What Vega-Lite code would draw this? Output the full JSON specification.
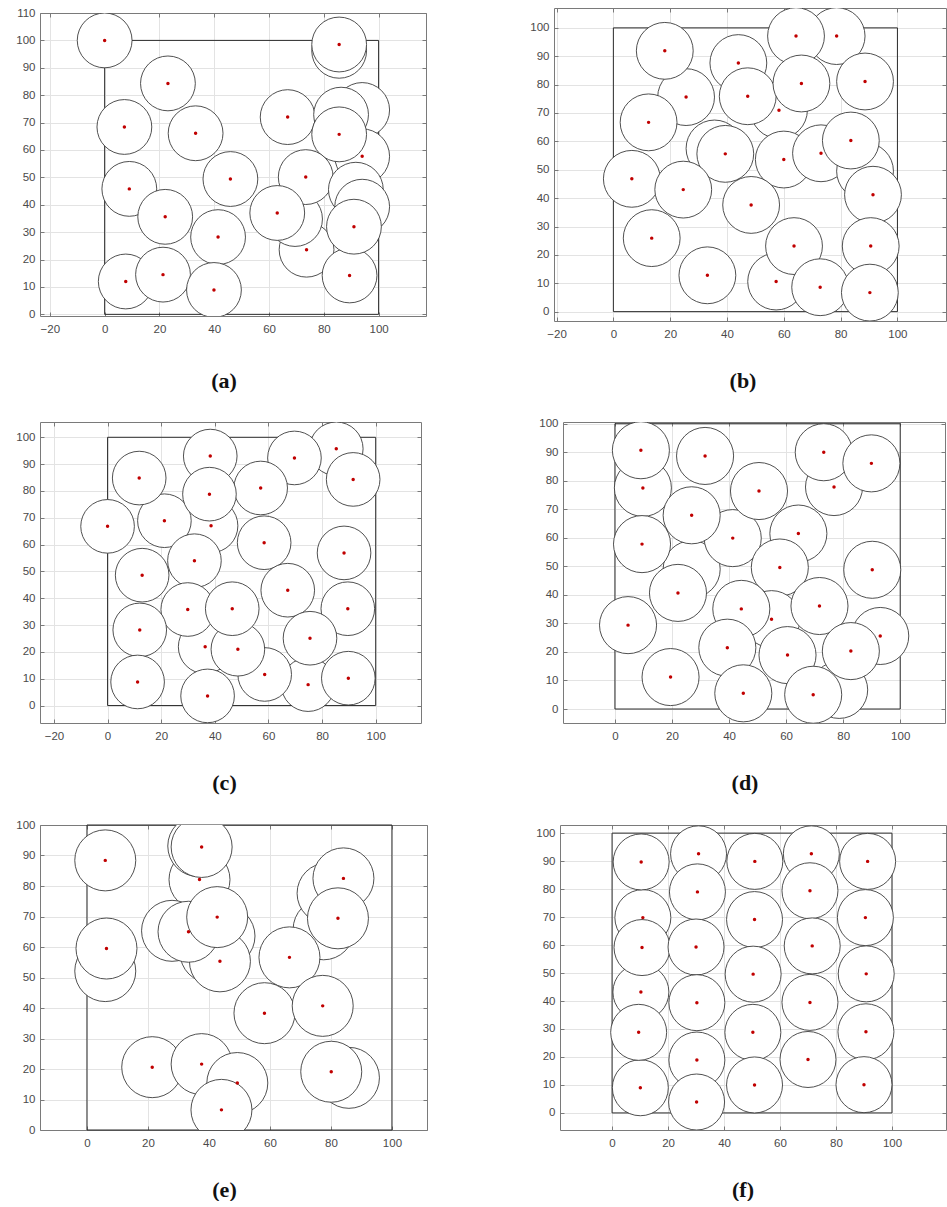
{
  "$schema": "https://vega.github.io/schema/vega-lite/v6.json",
  "padding": {"left": 15, "top": 7, "right": 0, "bottom": 0},
  "background": "#ffffff",
  "config": {
    "view": {"stroke": null},
    "axis": {"labelFont": "Liberation Sans", "labelFontSize": 11.5, "labelColor": "#4a4a4a", "gridColor": "#e3e3e3", "gridWidth": 1, "domainColor": "#7a7a7a", "domainWidth": 1, "tickColor": "#7a7a7a", "tickSize": -4},
    "axisX": {"labelPadding": 11},
    "axisY": {"labelPadding": 9},
    "title": {"font": "Liberation Serif", "fontSize": 22, "fontWeight": "bold", "color": "#111111"}
  },
  "datasets": {
    "a": [
      {"x": 0, "y": 100, "shown": true}, {"x": 23.1, "y": 84.3, "shown": true}, {"x": 7.2, "y": 68.4, "shown": true}, {"x": 33.2, "y": 66.1, "shown": true},
      {"x": 9, "y": 45.8, "shown": true}, {"x": 22.1, "y": 35.6, "shown": true}, {"x": 45.9, "y": 49.4, "shown": true}, {"x": 41.4, "y": 28.2, "shown": true},
      {"x": 7.7, "y": 12, "shown": true}, {"x": 21.3, "y": 14.5, "shown": true}, {"x": 39.9, "y": 8.9, "shown": true}, {"x": 66.8, "y": 72, "shown": true},
      {"x": 85.6, "y": 96.2, "shown": false}, {"x": 85.6, "y": 98.5, "shown": true}, {"x": 94, "y": 74.6, "shown": false}, {"x": 86.3, "y": 72.9, "shown": false},
      {"x": 94, "y": 57.7, "shown": true}, {"x": 85.6, "y": 65.7, "shown": true}, {"x": 73.7, "y": 23.6, "shown": true}, {"x": 69.5, "y": 34.8, "shown": false},
      {"x": 73.4, "y": 50.1, "shown": true}, {"x": 63, "y": 37, "shown": true}, {"x": 91.7, "y": 45.5, "shown": false}, {"x": 89.4, "y": 14.2, "shown": true},
      {"x": 94, "y": 39.3, "shown": false}, {"x": 91, "y": 32, "shown": true}
    ],
    "b": [
      {"x": 25.6, "y": 75.6, "shown": true}, {"x": 18.1, "y": 91.9, "shown": true}, {"x": 12.4, "y": 66.7, "shown": true}, {"x": 44, "y": 87.6, "shown": true},
      {"x": 58.3, "y": 71, "shown": true}, {"x": 47.3, "y": 75.9, "shown": true}, {"x": 78.6, "y": 97.1, "shown": true}, {"x": 64.3, "y": 97.1, "shown": true},
      {"x": 66.2, "y": 80.4, "shown": true}, {"x": 88.6, "y": 81.1, "shown": true}, {"x": 35.6, "y": 57.5, "shown": false}, {"x": 39.4, "y": 55.6, "shown": true},
      {"x": 60, "y": 53.6, "shown": true}, {"x": 73.1, "y": 55.8, "shown": true}, {"x": 88.6, "y": 49.5, "shown": false}, {"x": 83.6, "y": 60.3, "shown": true},
      {"x": 91.4, "y": 41.2, "shown": true}, {"x": 6.5, "y": 46.8, "shown": true}, {"x": 24.6, "y": 43, "shown": true}, {"x": 48.5, "y": 37.6, "shown": true},
      {"x": 13.5, "y": 25.9, "shown": true}, {"x": 57.3, "y": 10.6, "shown": true}, {"x": 63.6, "y": 23.1, "shown": true}, {"x": 72.8, "y": 8.6, "shown": true},
      {"x": 90.6, "y": 23.1, "shown": true}, {"x": 90.3, "y": 6.7, "shown": true}, {"x": 33.1, "y": 12.8, "shown": true}
    ],
    "c": [
      {"x": 85.3, "y": 95.7, "shown": true}, {"x": 69.7, "y": 92.3, "shown": true}, {"x": 91.6, "y": 84.3, "shown": true}, {"x": 38.3, "y": 93, "shown": true},
      {"x": 57.1, "y": 81.1, "shown": true}, {"x": 38.6, "y": 67, "shown": true}, {"x": 21.2, "y": 68.9, "shown": true}, {"x": 11.8, "y": 84.8, "shown": true},
      {"x": 38, "y": 78.8, "shown": true}, {"x": 0, "y": 66.8, "shown": true}, {"x": 58.4, "y": 60.7, "shown": true}, {"x": 88.2, "y": 56.9, "shown": true},
      {"x": 32.4, "y": 54, "shown": true}, {"x": 12.9, "y": 48.6, "shown": true}, {"x": 67.2, "y": 43, "shown": true}, {"x": 36.4, "y": 21.9, "shown": true},
      {"x": 74.8, "y": 7.8, "shown": true}, {"x": 58.6, "y": 11.6, "shown": true}, {"x": 48.6, "y": 21, "shown": true}, {"x": 29.9, "y": 35.8, "shown": true},
      {"x": 46.5, "y": 36.1, "shown": true}, {"x": 89.6, "y": 36.1, "shown": true}, {"x": 12, "y": 28.2, "shown": true}, {"x": 75.5, "y": 25.1, "shown": true},
      {"x": 11.2, "y": 8.8, "shown": true}, {"x": 89.8, "y": 10.2, "shown": true}, {"x": 37.3, "y": 3.6, "shown": true}
    ],
    "d": [
      {"x": 26.9, "y": 49, "shown": false}, {"x": 9.8, "y": 77.5, "shown": true}, {"x": 9.1, "y": 90.7, "shown": true}, {"x": 9.5, "y": 57.8, "shown": true},
      {"x": 31.6, "y": 88.7, "shown": true}, {"x": 76.8, "y": 77.8, "shown": true}, {"x": 73.2, "y": 90, "shown": true}, {"x": 89.9, "y": 86.1, "shown": true},
      {"x": 41.3, "y": 59.9, "shown": true}, {"x": 26.9, "y": 67.9, "shown": true}, {"x": 50.5, "y": 76.4, "shown": true}, {"x": 64.3, "y": 61.5, "shown": true},
      {"x": 57.8, "y": 49.6, "shown": true}, {"x": 90.2, "y": 48.8, "shown": true}, {"x": 22.1, "y": 40.7, "shown": true}, {"x": 54.9, "y": 31.5, "shown": true},
      {"x": 44.3, "y": 35.1, "shown": true}, {"x": 71.7, "y": 36.1, "shown": true}, {"x": 4.6, "y": 29.4, "shown": true}, {"x": 78.6, "y": 6.7, "shown": false},
      {"x": 93, "y": 25.6, "shown": true}, {"x": 82.7, "y": 20.3, "shown": true}, {"x": 39.4, "y": 21.5, "shown": true}, {"x": 60.5, "y": 18.9, "shown": true},
      {"x": 19.5, "y": 11.2, "shown": true}, {"x": 45, "y": 5.5, "shown": true}, {"x": 69.5, "y": 5, "shown": true}
    ],
    "e": [
      {"x": 6, "y": 52.1, "shown": false}, {"x": 6.4, "y": 59.5, "shown": true}, {"x": 6, "y": 88.4, "shown": true}, {"x": 36.9, "y": 82.1, "shown": true},
      {"x": 36.5, "y": 93.1, "shown": false}, {"x": 37.6, "y": 92.8, "shown": true}, {"x": 27.9, "y": 65.3, "shown": false}, {"x": 40.5, "y": 58.2, "shown": false},
      {"x": 45.1, "y": 63.6, "shown": false}, {"x": 43.6, "y": 55.3, "shown": true}, {"x": 33.3, "y": 65, "shown": true}, {"x": 42.7, "y": 69.8, "shown": true},
      {"x": 77.6, "y": 65.8, "shown": false}, {"x": 66.4, "y": 56.6, "shown": true}, {"x": 78.9, "y": 77.6, "shown": false}, {"x": 84.1, "y": 82.5, "shown": true},
      {"x": 82.3, "y": 69.4, "shown": true}, {"x": 58.2, "y": 38.3, "shown": true}, {"x": 77.3, "y": 40.7, "shown": true}, {"x": 21.4, "y": 20.6, "shown": true},
      {"x": 37.6, "y": 21.6, "shown": true}, {"x": 49.3, "y": 15.4, "shown": true}, {"x": 44.1, "y": 6.6, "shown": true}, {"x": 85.9, "y": 17.1, "shown": false},
      {"x": 80.1, "y": 19.1, "shown": true}
    ],
    "f": [
      {"x": 11, "y": 69.8, "shown": true}, {"x": 10.3, "y": 43.2, "shown": true}, {"x": 10.7, "y": 59.1, "shown": true}, {"x": 10.4, "y": 89.7, "shown": true},
      {"x": 10.1, "y": 9, "shown": true}, {"x": 9.5, "y": 28.8, "shown": true},
      {"x": 30.9, "y": 92.6, "shown": true}, {"x": 30.5, "y": 79, "shown": true}, {"x": 30, "y": 59.3, "shown": true}, {"x": 30.3, "y": 39.4, "shown": true},
      {"x": 30.3, "y": 18.9, "shown": true}, {"x": 30.2, "y": 3.9, "shown": true},
      {"x": 51, "y": 89.9, "shown": true}, {"x": 50.9, "y": 69.1, "shown": true}, {"x": 50.4, "y": 49.6, "shown": true}, {"x": 50.3, "y": 28.8, "shown": true},
      {"x": 50.9, "y": 10, "shown": true},
      {"x": 71.2, "y": 92.6, "shown": true}, {"x": 70.7, "y": 79.4, "shown": true}, {"x": 71.5, "y": 59.7, "shown": true}, {"x": 70.7, "y": 39.5, "shown": true},
      {"x": 70, "y": 19.1, "shown": true},
      {"x": 91.3, "y": 89.9, "shown": true}, {"x": 90.5, "y": 69.8, "shown": true}, {"x": 90.8, "y": 49.7, "shown": true}, {"x": 90.7, "y": 29, "shown": true},
      {"x": 90, "y": 10.1, "shown": true}
    ]
  },
  "spacing": 25,
  "vconcat": [
    {
      "hconcat": [
        {
          "width": 386, "height": 303,
          "title": {"text": "(a)", "orient": "bottom", "offset": 31, "dx": -9, "dy": 5},
          "data": {"name": "a"},
          "resolve": {"axis": {"x": "independent", "y": "independent"}},
          "layer": [
            {"data": {"values": [{}]}, "mark": {"type": "rect", "filled": false, "stroke": "#2b2b2b", "strokeWidth": 1},
             "encoding": {
               "x": {"datum": 0, "type": "quantitative", "scale": {"domain": [-23.6, 117.3], "nice": false, "zero": false}, "axis": {"orient": "bottom", "values": [-20, 0, 20, 40, 60, 80, 100], "grid": true, "title": null}},
               "x2": {"datum": 100},
               "y": {"datum": 0, "type": "quantitative", "scale": {"domain": [-0.6, 110], "nice": false, "zero": false}, "axis": {"orient": "left", "values": [0, 10, 20, 30, 40, 50, 60, 70, 80, 90, 100, 110], "grid": true, "title": null}},
               "y2": {"datum": 100}}},
            {"mark": {"type": "point", "shape": "circle", "filled": true, "fill": "#ffffff", "stroke": "#3c3c3c", "strokeWidth": 0.9, "opacity": 1, "size": 3002, "clip": true},
             "encoding": {
               "x": {"field": "x", "type": "quantitative", "axis": {"orient": "top", "values": [-20, 0, 20, 40, 60, 80, 100], "labels": false, "grid": false, "title": null}},
               "y": {"field": "y", "type": "quantitative", "axis": {"orient": "right", "values": [0, 10, 20, 30, 40, 50, 60, 70, 80, 90, 100, 110], "labels": false, "grid": false, "title": null}}}},
            {"transform": [{"filter": "datum.shown"}],
             "mark": {"type": "point", "shape": "circle", "filled": true, "color": "#c00000", "size": 12, "opacity": 1, "clip": true},
             "encoding": {"x": {"field": "x", "type": "quantitative", "axis": null}, "y": {"field": "y", "type": "quantitative", "axis": null}}}
          ]
        },
        {
          "width": 392, "height": 313,
          "title": {"text": "(b)", "orient": "bottom", "offset": 31, "dx": -7},
          "data": {"name": "b"},
          "resolve": {"axis": {"x": "independent", "y": "independent"}},
          "layer": [
            {"data": {"values": [{}]}, "mark": {"type": "rect", "filled": false, "stroke": "#2b2b2b", "strokeWidth": 1},
             "encoding": {
               "x": {"datum": 0, "type": "quantitative", "scale": {"domain": [-20.9, 117.1], "nice": false, "zero": false}, "axis": {"orient": "bottom", "values": [-20, 0, 20, 40, 60, 80, 100], "grid": true, "title": null}},
               "x2": {"datum": 100},
               "y": {"datum": 0, "type": "quantitative", "scale": {"domain": [-3.3, 107], "nice": false, "zero": false}, "axis": {"orient": "left", "values": [0, 10, 20, 30, 40, 50, 60, 70, 80, 90, 100], "grid": true, "title": null}},
               "y2": {"datum": 100}}},
            {"mark": {"type": "point", "shape": "circle", "filled": true, "fill": "#ffffff", "stroke": "#3c3c3c", "strokeWidth": 0.9, "opacity": 1, "size": 3228, "clip": true},
             "encoding": {
               "x": {"field": "x", "type": "quantitative", "axis": {"orient": "top", "values": [-20, 0, 20, 40, 60, 80, 100], "labels": false, "grid": false, "title": null}},
               "y": {"field": "y", "type": "quantitative", "axis": {"orient": "right", "values": [0, 10, 20, 30, 40, 50, 60, 70, 80, 90, 100], "labels": false, "grid": false, "title": null}}}},
            {"transform": [{"filter": "datum.shown"}],
             "mark": {"type": "point", "shape": "circle", "filled": true, "color": "#c00000", "size": 12, "opacity": 1, "clip": true},
             "encoding": {"x": {"field": "x", "type": "quantitative", "axis": null}, "y": {"field": "y", "type": "quantitative", "axis": null}}}
          ]
        }
      ],
      "spacing": 128, "bounds": "flush", "center": true
    },
    {
      "hconcat": [
        {
          "width": 381, "height": 301,
          "title": {"text": "(c)", "orient": "bottom", "offset": 31, "dx": -6},
          "data": {"name": "c"},
          "resolve": {"axis": {"x": "independent", "y": "independent"}},
          "layer": [
            {"data": {"values": [{}]}, "mark": {"type": "rect", "filled": false, "stroke": "#2b2b2b", "strokeWidth": 1},
             "encoding": {
               "x": {"datum": 0, "type": "quantitative", "scale": {"domain": [-25.2, 116.9], "nice": false, "zero": false}, "axis": {"orient": "bottom", "values": [-20, 0, 20, 40, 60, 80, 100], "grid": true, "title": null}},
               "x2": {"datum": 100},
               "y": {"datum": 0, "type": "quantitative", "scale": {"domain": [-6.5, 105.7], "nice": false, "zero": false}, "axis": {"orient": "left", "values": [0, 10, 20, 30, 40, 50, 60, 70, 80, 90, 100], "grid": true, "title": null}},
               "y2": {"datum": 100}}},
            {"mark": {"type": "point", "shape": "circle", "filled": true, "fill": "#ffffff", "stroke": "#3c3c3c", "strokeWidth": 0.9, "opacity": 1, "size": 2875, "clip": true},
             "encoding": {
               "x": {"field": "x", "type": "quantitative", "axis": {"orient": "top", "values": [-20, 0, 20, 40, 60, 80, 100], "labels": false, "grid": false, "title": null}},
               "y": {"field": "y", "type": "quantitative", "axis": {"orient": "right", "values": [0, 10, 20, 30, 40, 50, 60, 70, 80, 90, 100], "labels": false, "grid": false, "title": null}}}},
            {"transform": [{"filter": "datum.shown"}],
             "mark": {"type": "point", "shape": "circle", "filled": true, "color": "#c00000", "size": 12, "opacity": 1, "clip": true},
             "encoding": {"x": {"field": "x", "type": "quantitative", "axis": null}, "y": {"field": "y", "type": "quantitative", "axis": null}}}
          ]
        },
        {
          "width": 382, "height": 301,
          "title": {"text": "(d)", "orient": "bottom", "offset": 31, "dx": -9},
          "data": {"name": "d"},
          "resolve": {"axis": {"x": "independent", "y": "independent"}},
          "layer": [
            {"data": {"values": [{}]}, "mark": {"type": "rect", "filled": false, "stroke": "#2b2b2b", "strokeWidth": 1},
             "encoding": {
               "x": {"datum": 0, "type": "quantitative", "scale": {"domain": [-18.2, 115.7], "nice": false, "zero": false}, "axis": {"orient": "bottom", "values": [0, 20, 40, 60, 80, 100], "grid": true, "title": null}},
               "x2": {"datum": 100},
               "y": {"datum": 0, "type": "quantitative", "scale": {"domain": [-4.9, 100.6], "nice": false, "zero": false}, "axis": {"orient": "left", "values": [0, 10, 20, 30, 40, 50, 60, 70, 80, 90, 100], "grid": true, "title": null}},
               "y2": {"datum": 100}}},
            {"mark": {"type": "point", "shape": "circle", "filled": true, "fill": "#ffffff", "stroke": "#3c3c3c", "strokeWidth": 0.9, "opacity": 1, "size": 3256, "clip": true},
             "encoding": {
               "x": {"field": "x", "type": "quantitative", "axis": {"orient": "top", "values": [0, 20, 40, 60, 80, 100], "labels": false, "grid": false, "title": null}},
               "y": {"field": "y", "type": "quantitative", "axis": {"orient": "right", "values": [0, 10, 20, 30, 40, 50, 60, 70, 80, 90, 100], "labels": false, "grid": false, "title": null}}}},
            {"transform": [{"filter": "datum.shown"}],
             "mark": {"type": "point", "shape": "circle", "filled": true, "color": "#c00000", "size": 12, "opacity": 1, "clip": true},
             "encoding": {"x": {"field": "x", "type": "quantitative", "axis": null}, "y": {"field": "y", "type": "quantitative", "axis": null}}}
          ]
        }
      ],
      "spacing": 142, "bounds": "flush", "center": true
    },
    {
      "hconcat": [
        {
          "width": 387, "height": 305,
          "title": {"text": "(e)", "orient": "bottom", "offset": 31, "dx": -9},
          "data": {"name": "e"},
          "resolve": {"axis": {"x": "independent", "y": "independent"}},
          "layer": [
            {"data": {"values": [{}]}, "mark": {"type": "rect", "filled": false, "stroke": "#2b2b2b", "strokeWidth": 1},
             "encoding": {
               "x": {"datum": 0, "type": "quantitative", "scale": {"domain": [-15.4, 111.5], "nice": false, "zero": false}, "axis": {"orient": "bottom", "values": [0, 20, 40, 60, 80, 100], "grid": true, "title": null}},
               "x2": {"datum": 100},
               "y": {"datum": 0, "type": "quantitative", "scale": {"domain": [0, 100], "nice": false, "zero": false}, "axis": {"orient": "left", "values": [0, 10, 20, 30, 40, 50, 60, 70, 80, 90, 100], "grid": true, "title": null}},
               "y2": {"datum": 100}}},
            {"mark": {"type": "point", "shape": "circle", "filled": true, "fill": "#ffffff", "stroke": "#3c3c3c", "strokeWidth": 0.9, "opacity": 1, "size": 3720, "clip": true},
             "encoding": {
               "x": {"field": "x", "type": "quantitative", "axis": {"orient": "top", "values": [0, 20, 40, 60, 80, 100], "labels": false, "grid": false, "title": null}},
               "y": {"field": "y", "type": "quantitative", "axis": {"orient": "right", "values": [0, 10, 20, 30, 40, 50, 60, 70, 80, 90, 100], "labels": false, "grid": false, "title": null}}}},
            {"transform": [{"filter": "datum.shown"}],
             "mark": {"type": "point", "shape": "circle", "filled": true, "color": "#c00000", "size": 12, "opacity": 1, "clip": true},
             "encoding": {"x": {"field": "x", "type": "quantitative", "axis": null}, "y": {"field": "y", "type": "quantitative", "axis": null}}}
          ]
        },
        {
          "width": 386, "height": 305,
          "title": {"text": "(f)", "orient": "bottom", "offset": 31, "dx": -10},
          "data": {"name": "f"},
          "resolve": {"axis": {"x": "independent", "y": "independent"}},
          "layer": [
            {"data": {"values": [{}]}, "mark": {"type": "rect", "filled": false, "stroke": "#2b2b2b", "strokeWidth": 1},
             "encoding": {
               "x": {"datum": 0, "type": "quantitative", "scale": {"domain": [-18.6, 119.3], "nice": false, "zero": false}, "axis": {"orient": "bottom", "values": [0, 20, 40, 60, 80, 100], "grid": true, "title": null}},
               "x2": {"datum": 100},
               "y": {"datum": 0, "type": "quantitative", "scale": {"domain": [-6.1, 102.9], "nice": false, "zero": false}, "axis": {"orient": "left", "values": [0, 10, 20, 30, 40, 50, 60, 70, 80, 90, 100], "grid": true, "title": null}},
               "y2": {"datum": 100}}},
            {"mark": {"type": "point", "shape": "circle", "filled": true, "fill": "#ffffff", "stroke": "#3c3c3c", "strokeWidth": 0.9, "opacity": 1, "size": 3134, "clip": true},
             "encoding": {
               "x": {"field": "x", "type": "quantitative", "axis": {"orient": "top", "values": [0, 20, 40, 60, 80, 100], "labels": false, "grid": false, "title": null}},
               "y": {"field": "y", "type": "quantitative", "axis": {"orient": "right", "values": [0, 10, 20, 30, 40, 50, 60, 70, 80, 90, 100], "labels": false, "grid": false, "title": null}}}},
            {"transform": [{"filter": "datum.shown"}],
             "mark": {"type": "point", "shape": "circle", "filled": true, "color": "#c00000", "size": 12, "opacity": 1, "clip": true},
             "encoding": {"x": {"field": "x", "type": "quantitative", "axis": null}, "y": {"field": "y", "type": "quantitative", "axis": null}}}
          ]
        }
      ],
      "spacing": 133, "bounds": "flush", "center": true
    }
  ]
}
